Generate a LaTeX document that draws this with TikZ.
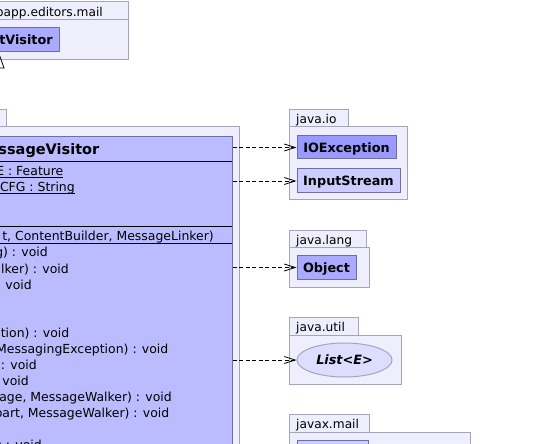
\documentclass[tikz,border=0pt]{standalone}
\usepackage{fontspec}
\setmainfont{DejaVu Sans}
\usetikzlibrary{arrows.meta,shapes.geometric}
\definecolor{pkgfill}{RGB}{238,238,253}
\definecolor{pkgline}{RGB}{165,165,185}
\definecolor{clsline}{RGB}{110,110,165}
\definecolor{clsA}{RGB}{153,153,255}
\definecolor{clsB}{RGB}{204,204,255}
\definecolor{clsC}{RGB}{170,170,255}
\definecolor{clsD}{RGB}{187,187,255}
\definecolor{clsE}{RGB}{221,221,255}
\newcommand\ulx[1]{\setbox0\hbox{#1}\rlap{\rule[-1.5bp]{\wd0}{0.8bp}}\box0}
\begin{document}
\begin{tikzpicture}[x=1bp,y=-1bp,
  pkg/.style={draw=pkgline,fill=pkgfill,line width=1bp},
  cls/.style={draw=clsline,line width=1bp,inner sep=0pt,text height=10.5bp,text depth=1bp,
    font=\fontsize{12.8bp}{15bp}\selectfont\bfseries},
  tabtext/.style={anchor=base west,inner sep=0pt,font=\fontsize{12.2bp}{14bp}\selectfont},
  member/.style={anchor=base east,inner sep=0pt,font=\fontsize{12.45bp}{14bp}\selectfont},
  sep/.style={draw=black,line width=1bp},
  dep/.style={draw=black,line width=0.8bp,dash pattern=on 4bp off 2.5bp,
    -{Straight Barb[length=11bp,width=7bp,line width=0.8bp]}},
  gen/.style={draw=black,line width=0.8bp,-{Triangle[open,length=16bp,width=11bp,line width=0.8bp]}},
]
\useasboundingbox (0,0) rectangle (540,444);
\clip (0,0) rectangle (540,444);
\fill[white] (0,0) rectangle (540,444);

% top package
\draw[pkg] (-100,20) rectangle (128,60);
\draw[pkg] (-100,2) rectangle (128,20);
\node[anchor=base east,inner sep=0pt,font=\fontsize{12.2bp}{14bp}\selectfont] (ptop) at (103,16.5) {papp.editors.mail};
\node[cls,fill=clsC,minimum width=66bp,minimum height=24bp] (tv) at (26,40) {tVisitor};

% main package
\draw[pkg] (-160,127) rectangle (239,490);
\draw[pkg] (-160,110) rectangle (6,127);
\node[draw=clsline,fill=clsD,line width=1bp,minimum width=382bp,minimum height=343bp,inner sep=0pt] (mv) at (41,308.5) {};
\node[anchor=base east,inner sep=0pt,font=\fontsize{14.5bp}{17bp}\selectfont\bfseries] (title) at (99.5,154.5) {ssageVisitor};
\draw[sep] (-150,162) -- (232,162);
\draw[sep] (-150,227) -- (232,227);
\draw[sep] (-150,244) -- (232,244);
\node[member] (m1) at (63.5,176) {\ulx{E : Feature}};
\node[member] (m2) at (75,192) {\ulx{CFG : String}};
\node[member] (m3) at (214,240.5) {t, ContentBuilder, MessageLinker)};
\node[member] (m4) at (48,257) {g) : void};
\node[member] (m5) at (69,273) {alker) : void};
\node[member] (m6) at (32,289) {: void};
\node[member] (m7) at (69.5,337) {otion) : void};
\node[member] (m8) at (168.5,353) {MessagingException) : void};
\node[member] (m9) at (37,369) {: void};
\node[member] (m10) at (29,385) {void};
\node[member] (m11) at (172,401) {age, MessageWalker) : void};
\node[member] (m12) at (169.5,417) {part, MessageWalker) : void};
\node[member] (m13) at (42,449) {) : void};

% java.io
\draw[pkg] (289,127) rectangle (407,200);
\draw[pkg] (289,110) rectangle (348,127);
\node[tabtext] (tio) at (296,123.5) {java.io};
\node[cls,fill=clsA,minimum width=99bp,minimum height=23bp] (io) at (346.5,147.5) {IOException};
\node[cls,fill=clsB,minimum width=103bp,minimum height=24bp] (is) at (348.5,181) {InputStream};

% java.lang
\draw[pkg] (289,248) rectangle (369,287);
\draw[pkg] (289,231) rectangle (366,248);
\node[tabtext] (tlang) at (296,244.5) {java.lang};
\node[cls,fill=clsC,minimum width=59bp,minimum height=23bp] (obj) at (326.5,267.5) {Object};

% java.util
\draw[pkg] (289,335) rectangle (401,384);
\draw[pkg] (289,317) rectangle (358,335);
\node[tabtext] (tutil) at (296,331) {java.util};
\node[ellipse,draw=pkgline,fill=clsE,line width=1bp,minimum width=95bp,minimum height=34bp,inner sep=0pt,
  font=\fontsize{12.8bp}{15bp}\selectfont\bfseries\itshape] (lst) at (344.5,360) {List<E>};

% javax.mail
\draw[pkg] (289,432) rectangle (470,480);
\draw[pkg] (289,414) rectangle (369,432);
\node[tabtext] (tmail) at (296,428) {javax.mail};
\node[draw=clsline,fill=clsB,line width=1bp,minimum width=71bp,minimum height=30bp,inner sep=0pt] (mc) at (332.5,455) {};

% connectors
\coordinate (gx) at (-1,0);
\draw[gen] (mv.north -| gx) -- (tv.south -| gx);
\draw[dep] (mv.east |- io.west) -- (io.west);
\draw[dep] (mv.east |- is.west) -- (is.west);
\draw[dep] (mv.east |- obj.west) -- (obj.west);
\draw[dep] (mv.east |- lst.west) -- (lst.west);
\end{tikzpicture}
\end{document}
